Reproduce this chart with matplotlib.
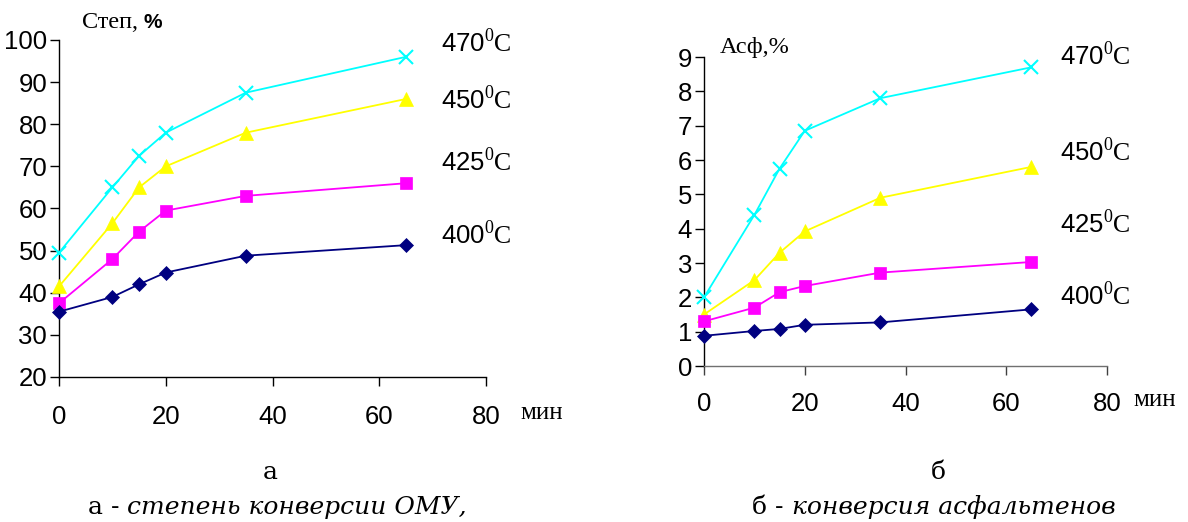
import matplotlib
matplotlib.use("Agg")
import matplotlib.pyplot as plt

plt.rcParams['mathtext.fontset'] = 'custom'
plt.rcParams['mathtext.rm'] = 'Liberation Serif'
plt.rcParams['mathtext.sf'] = 'Liberation Sans'

t = [0, 10, 15, 20, 35, 65]
temps = ['470', '450', '425', '400']

conv_470 = [49.5, 65, 72.5, 78, 87.5, 96]
conv_450 = [41.5, 56.5, 65, 70, 78, 86]
conv_425 = [37.5, 48, 54.5, 59.5, 63, 66]
conv_400 = [35.5, 39, 42, 44.8, 48.8, 51.3]

asf_470 = [2.0, 4.4, 5.75, 6.85, 7.8, 8.7]
asf_450 = [1.5, 2.5, 3.3, 3.92, 4.9, 5.8]
asf_425 = [1.3, 1.7, 2.15, 2.33, 2.72, 3.03]
asf_400 = [0.88, 1.02, 1.08, 1.2, 1.27, 1.65]

colors = ['#00FFFF', '#FFFF00', '#FF00FF', '#000080']
markers = ['x', '^', 's', 'D']
msizes = [10, 9.5, 9, 7.5]

W, H = 1188, 522
fig = plt.figure(figsize=(W/100, H/100), dpi=100)
ax1 = fig.add_axes([59/W, 1-377/H, (486-59)/W, (377-40)/H])
ax2 = fig.add_axes([704/W, 1-366/H, (1107-704)/W, (366-57)/H])

def style(ax, pad):
    for s in ['top', 'right']:
        ax.spines[s].set_visible(False)
    for s in ['left', 'bottom']:
        ax.spines[s].set_linewidth(1.0)
    ax.tick_params(direction='out', length=6.5, width=1.0, labelsize=18.5)
    ax.tick_params(axis='x', pad=pad)
    ax.tick_params(axis='y', pad=2)
    for lab in ax.get_xticklabels() + ax.get_yticklabels():
        lab.set_fontfamily('Liberation Sans')
    ax.set_xlim(0, 80)

def draw(ax, series):
    for ys, c, m, ms in zip(series, colors, markers, msizes):
        ax.plot(t, ys, color=c, lw=1.3, marker=m, ms=ms,
                mew=1.5 if m == 'x' else 0.5, mec=c, clip_on=False, zorder=3)

draw(ax1, [conv_470, conv_450, conv_425, conv_400])
draw(ax2, [asf_470, asf_450, asf_425, asf_400])

ax1.set_ylim(20, 100)
ax1.set_yticks(range(20, 101, 10))
ax1.set_xticks([0, 20, 40, 60, 80])
ax2.set_ylim(0, 9)
ax2.set_yticks(range(0, 10))
ax2.set_xticks([0, 20, 40, 60, 80])
style(ax1, 14)
style(ax2, 12)
ax2.spines['bottom'].set_color('#707070')
ax2.tick_params(axis='x', color='#404040')

def temp_label(x, y, tt):
    fig.text(x/W, 1-y/H, r'$\mathsf{' + tt + r'}^{0}\mathrm{C}$', fontsize=18.5,
             va='center', ha='left')

for tt, y in zip(temps, [44, 101, 163, 236]):
    temp_label(441, y, tt)
for tt, y in zip(temps, [57, 153, 225, 297]):
    temp_label(1060, y, tt)

serif = 'Liberation Serif'
fig.text(82/W, 1-22/H, 'Степ,', fontfamily=serif, fontsize=17.5, va='center')
fig.text(143/W, 1-22/H, '%', fontfamily='Liberation Sans', fontweight='bold',
         fontsize=15, va='center')
fig.text(720/W, 1-47/H, 'Асф,%', fontfamily=serif, fontsize=17.5, va='center')

fig.text(520/W, 1-413/H, 'мин', fontfamily=serif, fontsize=18, va='center')
fig.text(1133/W, 1-400/H, 'мин', fontfamily=serif, fontsize=18, va='center')

cap = 'DejaVu Serif'
fig.text(270/W, 1-479/H, 'а', fontfamily=cap, fontsize=18, ha='center', va='baseline')
fig.text(938/W, 1-479/H, 'б', fontfamily=cap, fontsize=18, ha='center', va='baseline')

fig.text(88/W, 1-514/H, 'а -', fontfamily=cap, fontsize=18, va='baseline')
fig.text(127/W, 1-514/H, 'степень конверсии ОМУ,', fontfamily=cap,
         style='italic', fontsize=18, va='baseline')
fig.text(752/W, 1-514/H, 'б -', fontfamily=cap, fontsize=18, va='baseline')
fig.text(792/W, 1-514/H, 'конверсия асфальтенов', fontfamily=cap,
         style='italic', fontsize=18, va='baseline')

fig.savefig('out.png', dpi=100)
